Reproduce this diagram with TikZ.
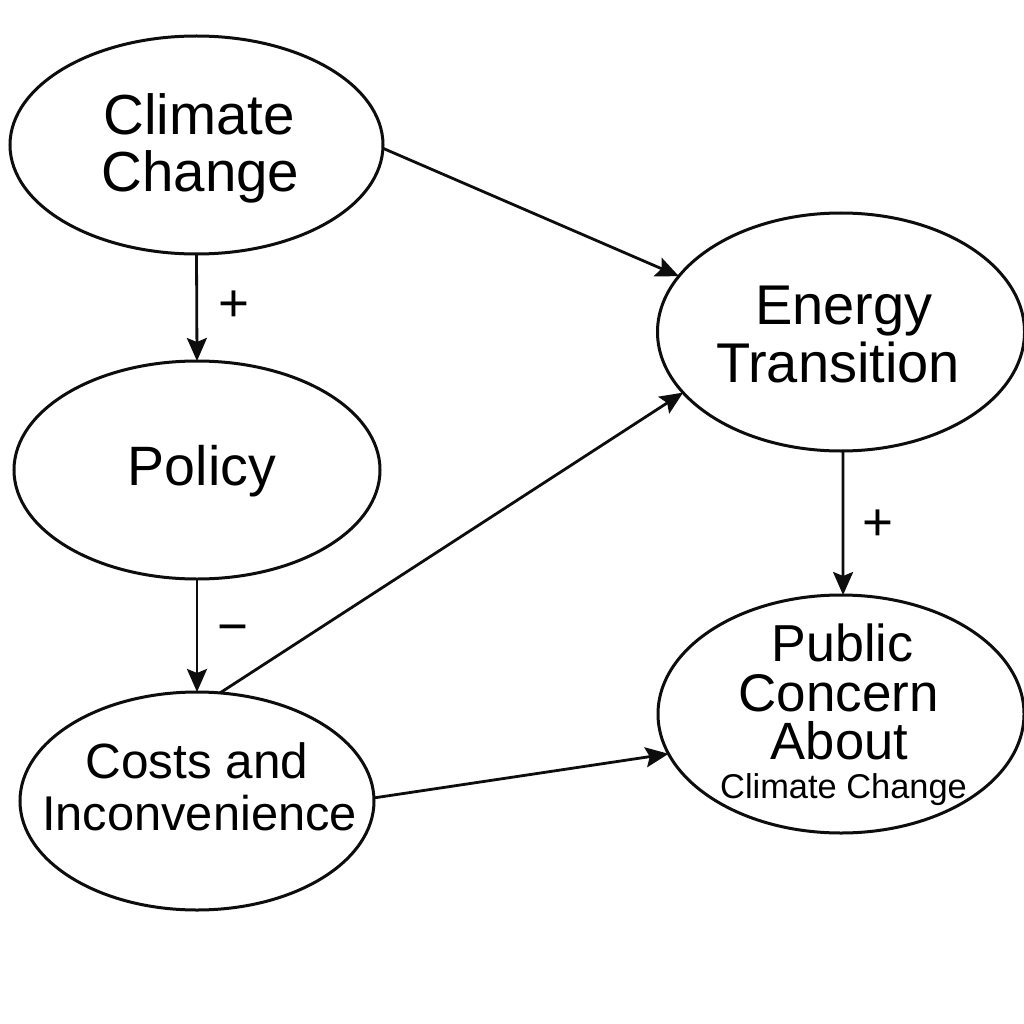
\documentclass[tikz,border=0pt]{standalone}
\usepackage{fontspec}
\setmainfont{Liberation Sans}
\usetikzlibrary{arrows.meta,shapes.geometric}
\begin{document}
\begin{tikzpicture}[x=1pt,y=-1pt,
  blob/.style={draw=black!95,line width=3pt,ellipse,inner sep=0pt,outer sep=0pt,fill=none},
  conn/.style={draw=black!95,line width=2.8pt,-{Stealth[length=23pt,width=20pt,inset=4pt]}},
  lab/.style={inner sep=0pt,font=\fontsize{#1}{#1}\selectfont,text=black,align=center}]
\useasboundingbox (0,0) rectangle (1024,1024);
\fill[white] (0,0) rectangle (1024,1024);
\node[blob,minimum width=373pt,minimum height=218pt] (cc) at (196.5,145) {};
\node[blob,minimum width=366pt,minimum height=218pt] (po) at (197,470) {};
\node[blob,minimum width=354pt,minimum height=218pt] (ci) at (197,801) {};
\node[blob,minimum width=367pt,minimum height=238pt] (et) at (841,332) {};
\node[blob,minimum width=366pt,minimum height=238pt] (pc) at (841,714) {};
\node[lab=56.5] (t1) at (199,114) {Climate};
\node[lab=56.5] (t2) at (200.5,177) {Change};
\node[lab=55.5] (t3) at (202,471) {Policy};
\node[lab=49.5] (t4) at (197,761) {Costs and};
\node[lab=48.8] (t5) at (199.5,813) {Inconvenience};
\node[lab=56] (t6) at (844,311) {Energy};
\node[lab=56] (t7) at (838,362) {Transition};
\node[lab=52] (t8) at (842.5,643) {Public};
\node[lab=53] (t9) at (838.5,693) {Concern};
\node[lab=52.5] (t10) at (839.5,741) {About};
\node[lab=34.4] (t11) at (843.5,790) {Climate Change};
\node[lab=53] (p1) at (233.5,306) {+};
\node[lab=53] (p2) at (233,635) {−};
\node[lab=53] (p3) at (877.5,525) {+};
\draw[conn] (cc.south) -- (po.north);
\draw[conn] (po.south) -- (ci.north);
\draw[conn] (cc.-1.5) -- (et.161.7);
\draw[conn] (ci.78.1) -- (et.201.6);
\draw[conn] (ci.1) -- (pc.193.3);
\draw[conn] (et.-89.5) -- (pc.89.5);
\end{tikzpicture}
\end{document}
